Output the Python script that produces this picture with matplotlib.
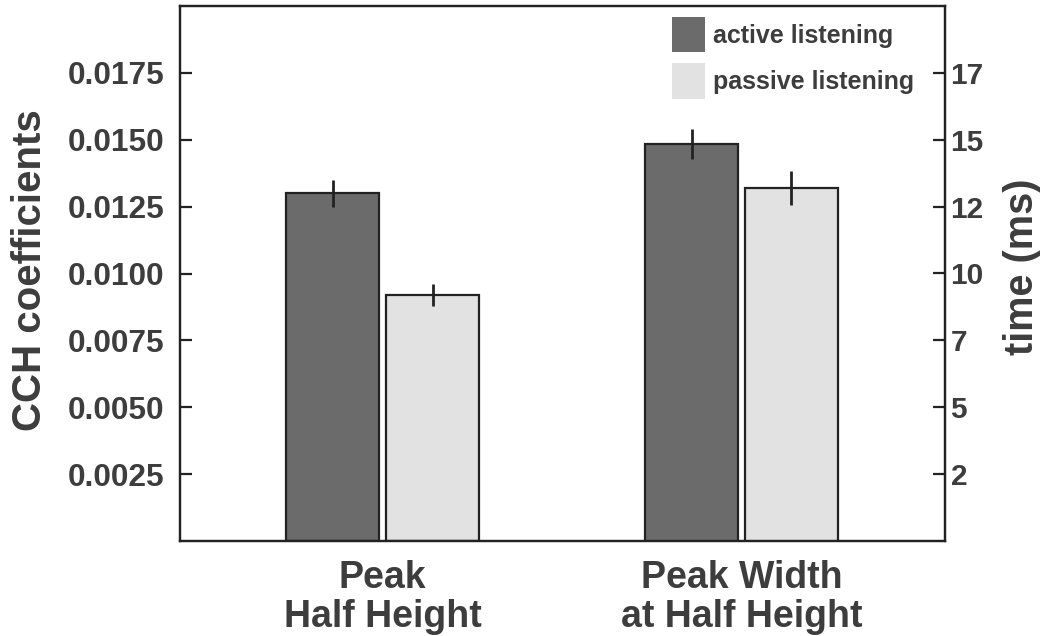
import matplotlib.pyplot as plt
import numpy as np
from matplotlib.ticker import FuncFormatter
from matplotlib.patches import Patch

plt.rcParams['font.family'] = ['Liberation Sans', 'DejaVu Sans']
plt.rcParams['font.weight'] = 'bold'
plt.rcParams['axes.labelweight'] = 'bold'

categories = ['Peak\nHalf Height', 'Peak Width\nat Half Height']
series = ['active listening', 'passive listening']

# peak half height, CCH coefficients (left axis)
height_mean = [0.0130, 0.0092]
height_err = [0.0005, 0.0004]
# peak width at half height, ms (right axis)
width_mean = [14.85, 13.2]
width_err = [0.57, 0.65]

left_ticks = [0.0025, 0.0050, 0.0075, 0.0100, 0.0125, 0.0150, 0.0175]
right_ticks = [2.5, 5, 7.5, 10, 12.5, 15, 17.5]

dark = '#6b6b6b'
light = '#e2e2e2'
ink = '#3d3d3d'
edge = '#222222'

fig = plt.figure(figsize=(10.45, 6.36), dpi=100)
ax = fig.add_axes([180 / 1045, 1 - 541 / 636, 765 / 1045, 535 / 636])
ax2 = ax.twinx()

x = np.arange(len(categories))
w = 0.259
off = 0.139
colors = [dark, light]

for i in range(2):
    ax.bar(x[0] + (2 * i - 1) * off, height_mean[i], w, color=colors[i],
           edgecolor=edge, linewidth=1.6, yerr=height_err[i],
           error_kw=dict(ecolor=edge, elinewidth=2, capsize=0))
    ax2.bar(x[1] + (2 * i - 1) * off, width_mean[i], w, color=colors[i],
            edgecolor=edge, linewidth=1.6, yerr=width_err[i],
            error_kw=dict(ecolor=edge, elinewidth=2, capsize=0))

ax.set_xlim(-0.565, 1.567)
ax.set_ylim(0, 0.02)
ax2.set_ylim(0, 20)

ax.set_xticks(x)
ax.set_xticklabels(categories, fontsize=27, color=ink, linespacing=1.1)
ax.tick_params(axis='x', length=0, pad=14)

ax.set_yticks(left_ticks)
ax.yaxis.set_major_formatter(FuncFormatter(lambda v, p: '%.4f' % v))
ax.tick_params(axis='y', direction='in', length=8.5, width=1.6, labelsize=22.8,
               labelcolor=ink, color=edge, pad=11.5)
ax2.set_yticks(right_ticks)
ax2.yaxis.set_major_formatter(FuncFormatter(lambda v, p: str(int(v))))
ax2.tick_params(axis='y', direction='in', length=8.5, width=1.6, labelsize=21.5,
                labelcolor=ink, color=edge, pad=4)

ax.set_ylabel('CCH coefficients', fontsize=29, color=ink, labelpad=13)
ax2.set_ylabel('time (ms)', fontsize=28.5, color=ink, labelpad=14)
ax.yaxis.label.set_y(0.506)
ax2.yaxis.label.set_y(0.512)

for a in (ax, ax2):
    for s in a.spines.values():
        s.set_linewidth(1.6)
        s.set_color(edge)

handles = [Patch(facecolor=c, edgecolor='none') for c in colors]
leg = ax2.legend(handles, series, loc='upper left',
                 bbox_to_anchor=(672 / 1045, 1 - 17 / 636),
                 bbox_transform=fig.transFigure, frameon=False, fontsize=18,
                 handlelength=1.32, handleheight=1.8, labelspacing=0.44,
                 handletextpad=0.32, borderpad=0, borderaxespad=0)
for t in leg.get_texts():
    t.set_color(ink)

fig.savefig('out.png', dpi=100)
